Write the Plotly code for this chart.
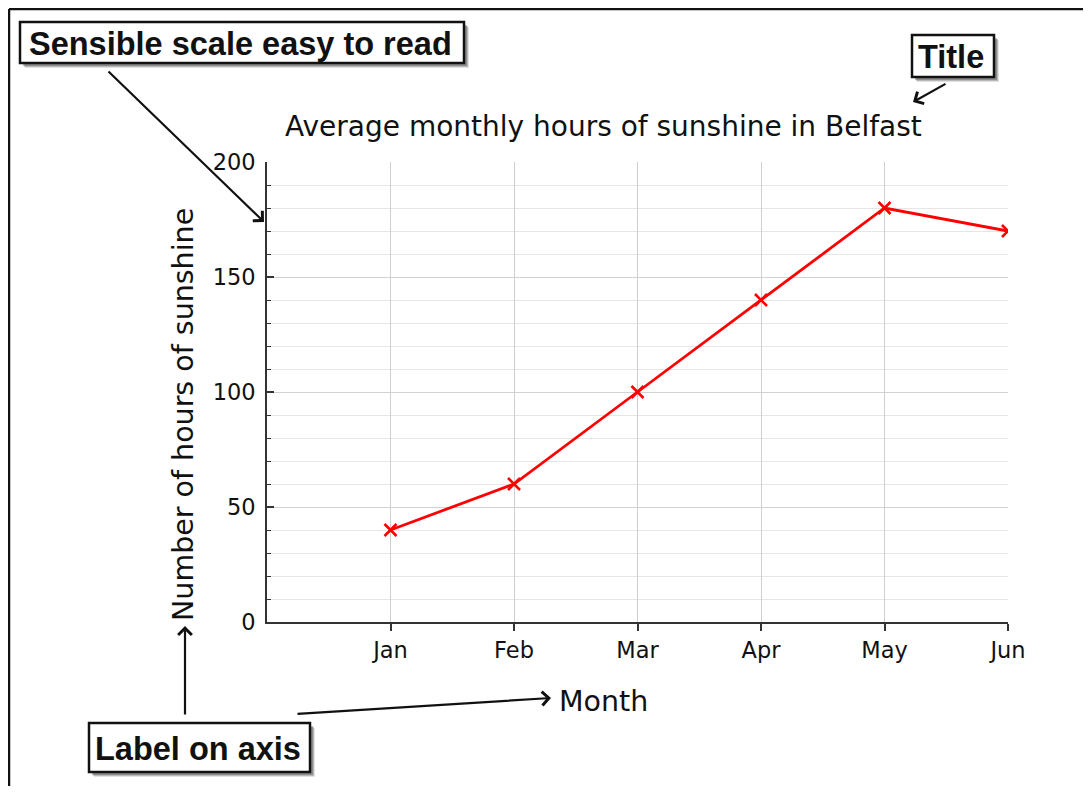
import plotly.graph_objects as go

months = ["Jan", "Feb", "Mar", "Apr", "May", "Jun"]
sunshine_hours = [40, 60, 100, 140, 180, 170]
y_ticks = [0, 50, 100, 150, 200]

# page body has an 8px margin, so the figure is sized to fit inside the window
OFF = 8
W, H = 1091 - 2 * OFF, 794 - 2 * OFF
def px(x):
    return (x - OFF) / W
def py(y):
    return 1 - (y - OFF) / H

FONT = "DejaVu Sans"
BOLD = "Liberation Sans"

fig = go.Figure()
fig.add_trace(go.Scatter(
    x=months, y=sunshine_hours, mode="lines+markers",
    line=dict(color="#ff0000", width=2.8),
    marker=dict(symbol="x-thin", size=12, line=dict(color="#ff0000", width=2.6)),
    showlegend=False, hoverinfo="x+y",
))

fig.update_layout(
    width=W, height=H, margin=dict(l=0, r=0, t=0, b=0, autoexpand=False),
    paper_bgcolor="white", plot_bgcolor="white",
    xaxis=dict(
        domain=[px(267), px(1008)], type="category", range=[-1, 5],
        showline=True, linecolor="#333", linewidth=1.6,
        ticks="outside", ticklen=7, tickwidth=1.5, tickcolor="#333",
        showgrid=True, gridcolor="#cfcfcf", gridwidth=1,
        tickfont=dict(family=FONT, size=22.5, color="#111"),
        zeroline=False, fixedrange=True, automargin=False,
    ),
    yaxis=dict(
        domain=[py(622), py(162)], range=[0, 200],
        tickvals=y_ticks, ticktext=[str(v) for v in y_ticks],
        showline=True, linecolor="#333", linewidth=1.6,
        ticks="inside", ticklen=7, tickwidth=1.5, tickcolor="#333",
        showgrid=True, gridcolor="#d2d2d2", gridwidth=1,
        minor=dict(dtick=10, ticks="inside", ticklen=4, tickwidth=1.2,
                   tickcolor="#333", showgrid=True, gridcolor="#e6e6e6", gridwidth=1),
        tickfont=dict(family=FONT, size=22.5, color="#111"),
        ticklabelstandoff=5,
        zeroline=False, fixedrange=True, automargin=False,
    ),
)

def label(text, x, y, size, family=FONT, angle=0):
    fig.add_annotation(text=text, x=px(x), y=py(y), xref="paper", yref="paper",
                       xanchor="center", yanchor="middle", showarrow=False, textangle=angle,
                       font=dict(family=family, size=size, color="#111"))

# chart title and axis titles
label("Average monthly hours of sunshine in Belfast", 603.5, 126, 28)
label("Number of hours of sunshine", 183, 415, 28.5, angle=-90)
label("Month", 603, 701, 28.5)

# outer frame (top and left)
fig.add_shape(type="line", xref="paper", yref="paper", x0=px(9), y0=py(9), x1=1.0, y1=py(9),
              line=dict(color="#111", width=2.5))
fig.add_shape(type="line", xref="paper", yref="paper", x0=px(9), y0=py(9), x1=px(9), y1=0,
              line=dict(color="#111", width=2.5))

# callout boxes
boxes = [
    ("Sensible scale easy to read", 20, 22, 464, 63),
    ("Title", 912, 35, 994, 77),
    ("Label on axis", 89, 723, 310, 772),
]
for text, x0, y0, x1, y1 in boxes:
    for off, alpha in [(5, 0.15), (4, 0.25), (3, 0.35)]:
        fig.add_shape(type="rect", xref="paper", yref="paper",
                      x0=px(x0 + off), y0=py(y0 + off), x1=px(x1 + off), y1=py(y1 + off),
                      fillcolor=f"rgba(60,60,60,{alpha})", line=dict(width=0), layer="above")
    fig.add_shape(type="rect", xref="paper", yref="paper",
                  x0=px(x0), y0=py(y0), x1=px(x1), y1=py(y1),
                  fillcolor="white", line=dict(color="#111", width=2.5), layer="above")
    label(f"<b>{text}</b>", (x0 + x1) / 2 - 2, (y0 + y1) / 2 + 1, 32.5, family=BOLD)

# arrows: (tail_x, tail_y, tip_x, tip_y)
arrows = [
    (107, 70, 264, 222),
    (947, 83, 913, 102),
    (185, 716, 185, 626),
    (296, 714, 551, 698),
]
for tx, ty, hx, hy in arrows:
    fig.add_annotation(x=px(hx), y=py(hy), xref="paper", yref="paper",
                       ax=tx - hx, ay=ty - hy, axref="pixel", ayref="pixel",
                       text="", showarrow=True, arrowhead=4, arrowsize=1.2,
                       arrowwidth=2.2, arrowcolor="#111")

fig.write_html("out.html")
